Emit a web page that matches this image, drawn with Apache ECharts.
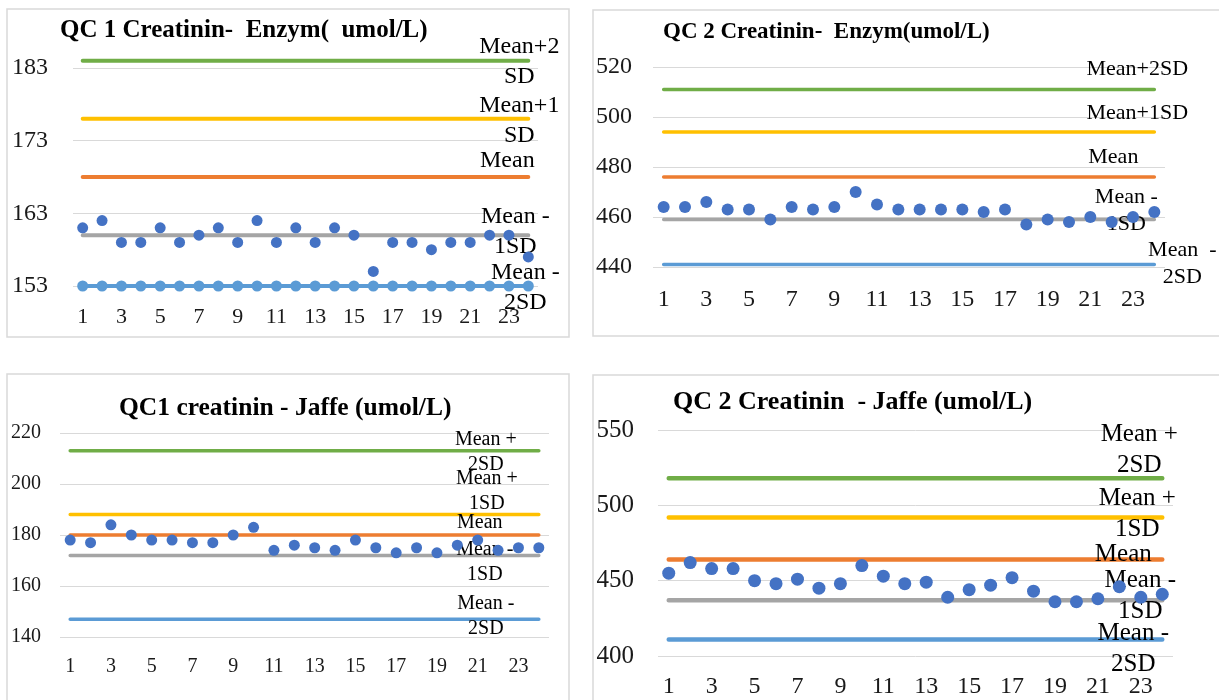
<!DOCTYPE html>
<html>
<head>
<meta charset="utf-8">
<title>QC Creatinin</title>
<script src="https://cdn.jsdelivr.net/npm/echarts@6/dist/echarts.min.js"></script>
<style>
html, body { margin: 0; padding: 0; background: #fff; }
#chart { width: 1219px; height: 700px; }
</style>
</head>
<body>
<div id="chart"></div>
<script>
// categories (run number)
var days = ['1','2','3','4','5','6','7','8','9','10','11','12','13','14','15','16','17','18','19','20','21','22','23','24'];
var limitColors = ['#70ad47', '#ffc000', '#ed7d31', '#a5a5a5', '#5b9bd5'];
var qcColor = '#4472c4';

// QC 1 Creatinin - Enzym
var qc1EnzVals = [161,162,159,159,161,159,160,161,159,162,159,161,159,161,160,155,159,159,158,159,159,160,160,157];
var qc1EnzLimits = [184, 176, 168, 160, 153];   // +2SD, +1SD, Mean, -1SD, -2SD
var qc1EnzAxis = [153, 183, 10];                // min, max, step
var qc1EnzLabels = ['Mean+2\nSD', 'Mean+1\nSD', 'Mean', 'Mean -\n1SD', 'Mean -\n2SD'];

// QC 2 Creatinin - Enzym
var qc2EnzVals = [464,464,466,463,463,459,464,463,464,470,465,463,463,463,463,462,463,457,459,458,460,458,460,462];
var qc2EnzLimits = [511, 494, 476, 459, 441];
var qc2EnzAxis = [440, 520, 20];
var qc2EnzLabels = ['Mean+2SD', 'Mean+1SD', 'Mean', 'Mean -\n1SD', 'Mean  -\n2SD'];

// QC1 creatinin - Jaffe
var qc1JafVals = [178,177,184,180,178,178,177,177,180,183,174,176,175,174,178,175,173,175,173,176,178,174,175,175];
var qc1JafLimits = [213, 188, 180, 172, 147];
var qc1JafAxis = [140, 220, 20];
var qc1JafLabels = ['Mean +\n2SD', 'Mean +\n1SD', 'Mean', 'Mean -\n1SD', 'Mean -\n2SD'];

// QC 2 Creatinin - Jaffe
var qc2JafVals = [455,462,458,458,450,448,451,445,448,460,453,448,449,439,444,447,452,443,436,436,438,446,439,441];
var qc2JafLimits = [518, 492, 464, 437, 411];
var qc2JafAxis = [400, 550, 50];
var qc2JafLabels = ['Mean +\n2SD', 'Mean +\n1SD', 'Mean', 'Mean -\n1SD', 'Mean -\n2SD'];

var serif = "'Liberation Serif', 'Times New Roman', serif";

var panels = [
    {
        title: 'QC 1 Creatinin-  Enzym(  umol/L)', titlePos: [60, 18], titleSize: 25,
        box: [7, 9, 562, 328],
        grid: { left: 73, top: 68, width: 465, height: 218 },
        vals: qc1EnzVals, limits: qc1EnzLimits, axis: qc1EnzAxis, labels: qc1EnzLabels,
        yFont: 24, yMargin: 25, xFont: 22, xMargin: 20,
        lblFont: 24, lblLine: 30, lineW: 4, dot: 11,
        offsets: [[-9, 1], [-9, 2], [-21, -16], [-13, -3], [-3, 2]],
        lastMarkers: true
    },
    {
        title: 'QC 2 Creatinin-  Enzym(umol/L)', titlePos: [663, 21], titleSize: 23,
        box: [593, 10, 640, 326],
        grid: { left: 653, top: 67, width: 512, height: 200 },
        vals: qc2EnzVals, limits: qc2EnzLimits, axis: qc2EnzAxis, labels: qc2EnzLabels,
        yFont: 24, yMargin: 21, xFont: 24, xMargin: 21,
        lblFont: 22, lblLine: 27, lineW: 3.5, dot: 12,
        offsets: [[-17, -20], [-17, -19], [-41, -20], [-28, -9], [28, -1]]
    },
    {
        title: 'QC1 creatinin - Jaffe (umol/L)', titlePos: [119, 395], titleSize: 25.5,
        box: [7, 374, 562, 340],
        grid: { left: 60, top: 433, width: 489, height: 204 },
        vals: qc1JafVals, limits: qc1JafLimits, axis: qc1JafAxis, labels: qc1JafLabels,
        yFont: 20, yMargin: 19, xFont: 20, xMargin: 20,
        lblFont: 20, lblLine: 25, lineW: 3.5, dot: 11,
        offsets: [[-53, 1], [-52, -23], [-59, -12], [-54, 7], [-53, -3]]
    },
    {
        title: 'QC 2 Creatinin  - Jaffe (umol/L)', titlePos: [673, 389], titleSize: 26,
        box: [593, 375, 640, 340],
        grid: { left: 658, top: 430, width: 515, height: 226 },
        vals: qc2JafVals, limits: qc2JafLimits, axis: qc2JafAxis, labels: qc2JafLabels,
        yFont: 25, yMargin: 24, xFont: 24, xMargin: 19,
        lblFont: 25, lblLine: 31, lineW: 4.5, dot: 13,
        offsets: [[-23, -28], [-25, -3], [-39, -5], [-22, -4], [-29, 10]]
    }
];

var option = {
    backgroundColor: '#fff',
    animation: false,
    title: [], grid: [], xAxis: [], yAxis: [], series: [], graphic: []
};

panels.forEach(function (p, gi) {
    option.graphic.push({
        type: 'rect', z: -10, silent: true,
        shape: { x: p.box[0], y: p.box[1], width: p.box[2], height: p.box[3] },
        style: { fill: '#fff', stroke: '#d9d9d9', lineWidth: 1.5 }
    });
    option.title.push({
        text: p.title, left: p.titlePos[0], top: p.titlePos[1], padding: 0,
        textStyle: { fontFamily: serif, fontSize: p.titleSize, fontWeight: 'bold', color: '#000' }
    });
    option.grid.push({
        left: p.grid.left, top: p.grid.top, width: p.grid.width, height: p.grid.height,
        outerBoundsMode: 'none'
    });
    option.xAxis.push({
        type: 'category', gridIndex: gi, data: days, boundaryGap: true,
        axisLine: { show: false }, axisTick: { show: false },
        axisLabel: { interval: 1, margin: p.xMargin, fontFamily: serif, fontSize: p.xFont, color: '#1a1a1a' }
    });
    option.yAxis.push({
        type: 'value', gridIndex: gi, min: p.axis[0], max: p.axis[1], interval: p.axis[2],
        axisLine: { show: false }, axisTick: { show: false },
        splitLine: { lineStyle: { color: '#d9d9d9', width: 1 } },
        axisLabel: { margin: p.yMargin, fontFamily: serif, fontSize: p.yFont, color: '#1a1a1a' }
    });
    var last = days.length - 1;
    p.limits.forEach(function (lim, k) {
        var withDots = p.lastMarkers && k === 4;
        option.series.push({
            type: 'line', xAxisIndex: gi, yAxisIndex: gi, z: 2, clip: false, silent: true,
            data: days.map(function () { return lim; }),
            symbol: 'circle', symbolSize: withDots ? p.dot : 0, showAllSymbol: true,
            itemStyle: { color: limitColors[k] },
            lineStyle: { color: limitColors[k], width: p.lineW, cap: 'round' },
            label: {
                show: true, position: 'inside', offset: p.offsets[k],
                align: 'center', verticalAlign: 'middle',
                fontFamily: serif, fontSize: p.lblFont, lineHeight: p.lblLine, color: '#000',
                formatter: function (it) { return it.dataIndex === last ? p.labels[k] : ''; }
            }
        });
    });
    option.series.push({
        type: 'scatter', xAxisIndex: gi, yAxisIndex: gi, z: 3, silent: true,
        data: p.vals.map(function (v, i) { return [i, v]; }),
        symbol: 'circle', symbolSize: p.dot,
        itemStyle: { color: qcColor, opacity: 1 }
    });
});

var chart = echarts.init(document.getElementById('chart'), null, { renderer: 'canvas' });
chart.setOption(option);
</script>
</body>
</html>
